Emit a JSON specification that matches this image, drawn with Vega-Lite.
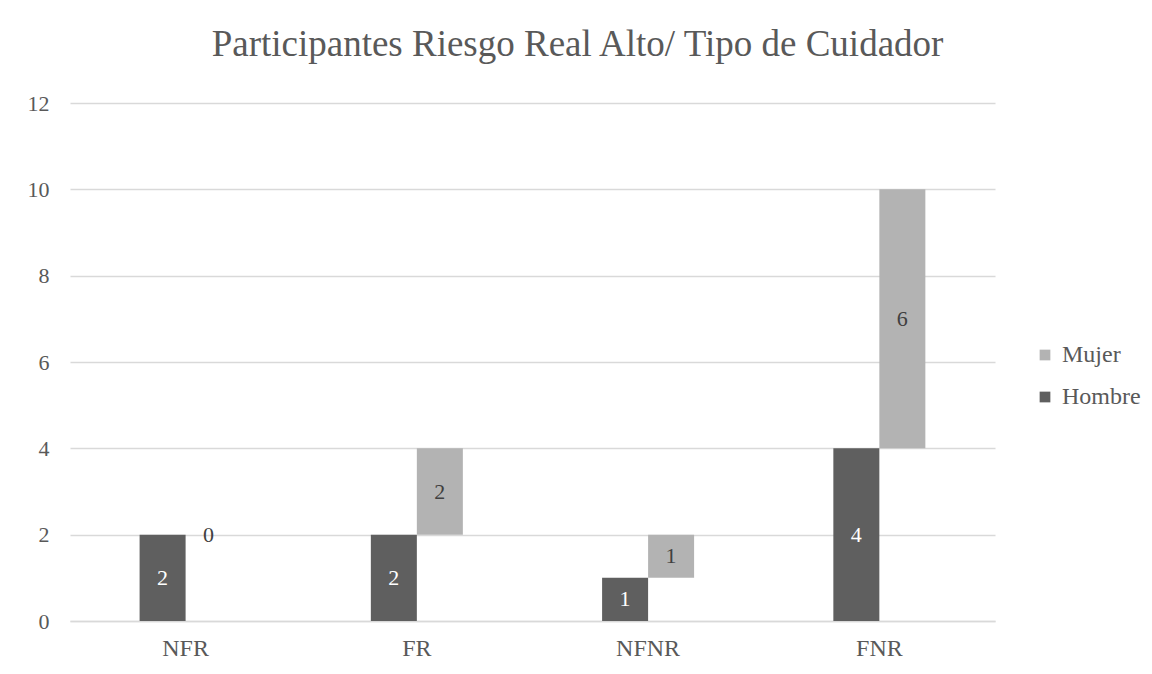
{
  "$schema": "https://vega.github.io/schema/vega-lite/v6.json",
  "autosize": {"type": "none"},
  "padding": {"left": 70, "top": 103, "right": 157, "bottom": 53},
  "width": 925,
  "height": 518,
  "background": "white",
  "title": {
    "text": "Participantes Riesgo Real Alto/ Tipo de Cuidador",
    "font": "Liberation Serif",
    "fontSize": 37,
    "fontWeight": "normal",
    "color": "#595959",
    "anchor": "middle",
    "frame": "group",
    "baseline": "alphabetic",
    "dx": 45,
    "offset": -1
  },
  "data": {
    "values": [
      {"cat": "NFR", "sex": "Hombre", "value": 2},
      {"cat": "NFR", "sex": "Mujer", "value": 0},
      {"cat": "FR", "sex": "Hombre", "value": 2},
      {"cat": "FR", "sex": "Mujer", "value": 2},
      {"cat": "NFNR", "sex": "Hombre", "value": 1},
      {"cat": "NFNR", "sex": "Mujer", "value": 1},
      {"cat": "FNR", "sex": "Hombre", "value": 4},
      {"cat": "FNR", "sex": "Mujer", "value": 6}
    ]
  },
  "transform": [
    {"stack": "value", "groupby": ["cat"], "sort": [{"field": "sex", "order": "ascending"}], "as": ["y0", "y1"]},
    {"calculate": "(datum.y0 + datum.y1) / 2", "as": "ymid"}
  ],
  "encoding": {
    "x": {
      "field": "cat",
      "type": "nominal",
      "sort": ["NFR", "FR", "NFNR", "FNR"],
      "scale": {"paddingInner": 0, "paddingOuter": 0},
      "axis": {
        "title": null,
        "labelAngle": 0,
        "labelFont": "Liberation Serif",
        "labelFontSize": 24,
        "labelColor": "#595959",
        "labelPadding": 15,
        "ticks": false,
        "domain": true,
        "domainColor": "#D9D9D9",
        "domainWidth": 1.5,
        "grid": false
      }
    },
    "xOffset": {
      "field": "sex",
      "type": "nominal",
      "sort": ["Hombre", "Mujer"],
      "scale": {"paddingInner": 0, "paddingOuter": 0, "range": [69.6, 161.6]}
    }
  },
  "layer": [
    {
      "mark": {"type": "bar"},
      "encoding": {
        "y": {
          "field": "y0",
          "type": "quantitative",
          "scale": {"domain": [0, 12], "nice": false},
          "axis": {
            "title": null,
            "values": [0, 2, 4, 6, 8, 10, 12],
            "labelFont": "Liberation Serif",
            "labelFontSize": 22,
            "labelColor": "#595959",
            "labelPadding": 21,
            "ticks": false,
            "domain": false,
            "grid": true,
            "gridColor": "#D9D9D9",
            "gridWidth": 1.5
          }
        },
        "y2": {"field": "y1"},
        "color": {
          "field": "sex",
          "type": "nominal",
          "scale": {"domain": ["Mujer", "Hombre"], "range": ["#B3B3B3", "#5F5F5F"]},
          "legend": {
            "title": null,
            "orient": "none",
            "legendX": 963,
            "legendY": 240,
            "symbolType": "square",
            "symbolSize": 115,
            "symbolStrokeWidth": 0,
            "labelFont": "Liberation Serif",
            "labelFontSize": 24,
            "labelColor": "#595959",
            "labelOffset": 5,
            "rowPadding": 18
          }
        }
      }
    },
    {
      "mark": {"type": "text", "font": "Liberation Serif", "fontSize": 22, "baseline": "middle", "align": "center"},
      "encoding": {
        "y": {"field": "ymid", "type": "quantitative"},
        "text": {"field": "value", "type": "quantitative"},
        "color": {"condition": {"test": "datum.sex === 'Hombre'", "value": "#FFFFFF"}, "value": "#404040"}
      }
    }
  ],
  "config": {"view": {"stroke": null}}
}
